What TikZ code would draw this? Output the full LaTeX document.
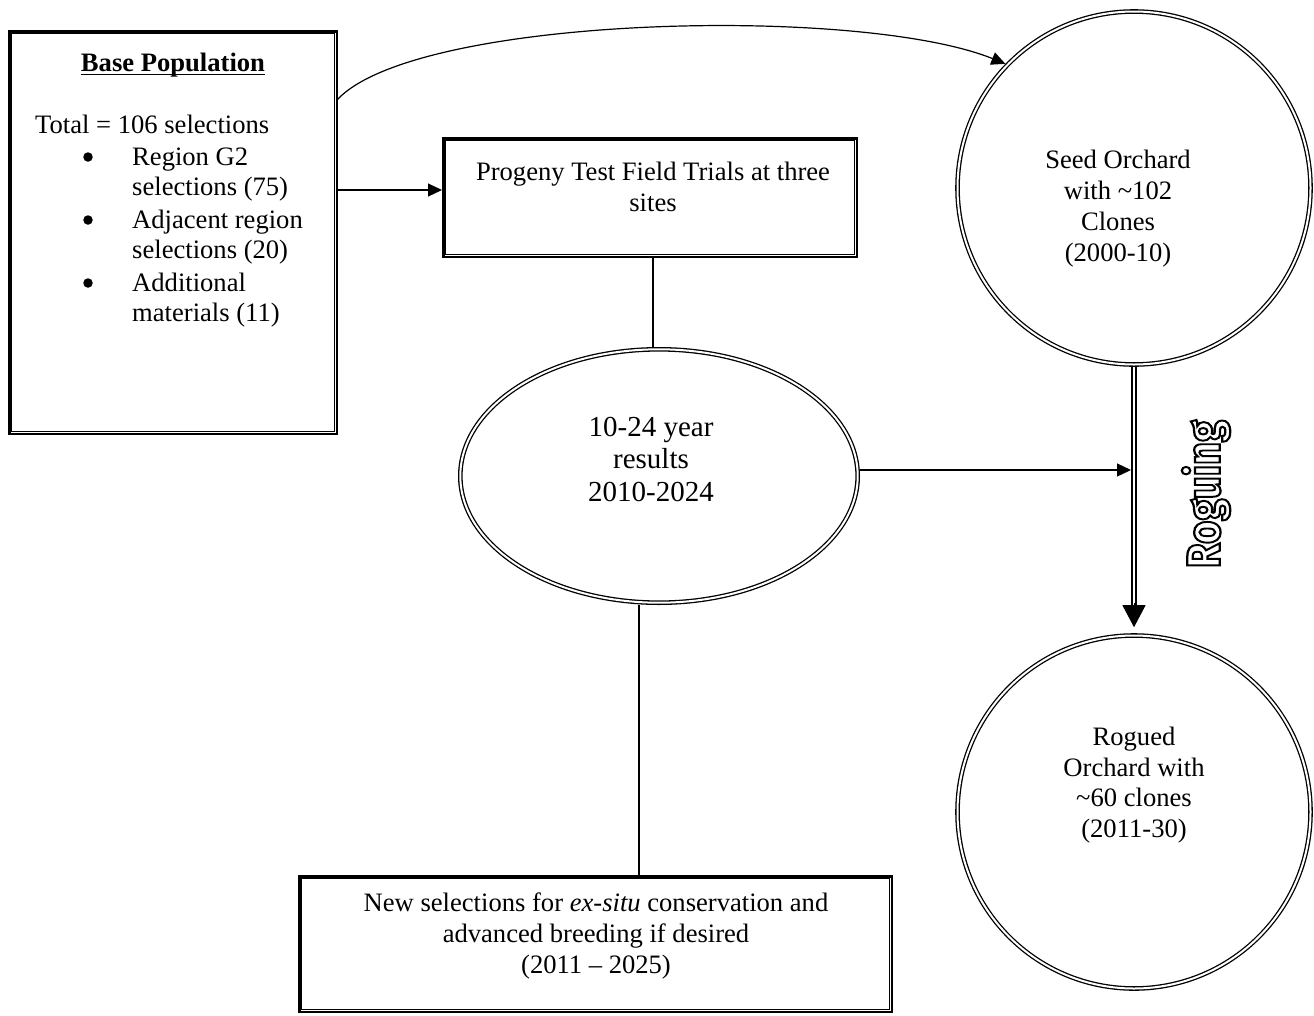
\documentclass[tikz,border=0pt]{standalone}
\usepackage{fontspec}
\setmainfont{Liberation Serif}
\newfontfamily\rogfont{Fira Sans}
\usetikzlibrary{arrows.meta,shapes.geometric,calc}
\newcommand{\fsz}{\fontsize{26.6}{30.6}\selectfont}
\newcommand{\fbig}{\fontsize{29}{32.5}\selectfont}
\begin{document}
\begin{tikzpicture}[x=1pt,y=-1pt,
  conn/.style={line width=1.2pt},
  arr/.style={conn,-{Triangle[length=14pt,width=13pt]}},
  boxo/.style={draw,rectangle,line width=2.5pt,inner sep=0pt},
  boxi/.style={line width=1pt},
  ring/.style={draw,double,line width=1.3pt,double distance=2pt,inner sep=0pt,outer sep=2.3pt},
  txt/.style={font=\fsz,inner sep=0pt,anchor=base},
  txtl/.style={font=\fsz,inner sep=0pt,anchor=base west},
  txtb/.style={font=\fbig,inner sep=0pt,anchor=base},
  bul/.style={circle,fill,minimum size=9.5pt,inner sep=0pt},
]
\fill[white] (0,0) rectangle (1314,1015);
\useasboundingbox (0,0) rectangle (1314,1015);

% shapes
\node[boxo,minimum width=327.5pt,minimum height=402.5pt] (bp) at (173,232.5) {};
\draw[boxi] ([shift={(3.75,3.75)}]bp.north west) rectangle ([shift={(-3.75,-3.75)}]bp.south east);
\node[boxo,minimum width=413.5pt,minimum height=118.5pt] (pt) at (650,197.5) {};
\draw[boxi] ([shift={(3.75,3.75)}]pt.north west) rectangle ([shift={(-3.75,-3.75)}]pt.south east);
\node[boxo,minimum width=592.5pt,minimum height=135.5pt] (nb) at (595.5,944) {};
\draw[boxi] ([shift={(3.75,3.75)}]nb.north west) rectangle ([shift={(-3.75,-3.75)}]nb.south east);
\node[ring,ellipse,minimum width=397.4pt,minimum height=253.4pt] (el) at (659,476) {};
\node[ring,circle,minimum size=353pt] (so) at (1134,188) {};
\node[ring,circle,minimum size=353pt] (ro) at (1134,812) {};

% base population text
\node[txt] (bpt) at (173,71) {\textbf{Base Population}};
\draw[line width=1.4pt] ([yshift=-3.5pt]bpt.base west) -- ([yshift=-3.5pt]bpt.base east);
\node[txtl] (tot) at (35,133) {Total = 106 selections};
\node[bul] (u1) at (88,157) {};
\node[bul] (u2) at (88,220) {};
\node[bul] (u3) at (88,283) {};
\node[txtl] (i1a) at (132,165) {Region G2};
\node[txtl] (i1b) at (132,195) {selections (75)};
\node[txtl] (i2a) at (132,228) {Adjacent region};
\node[txtl] (i2b) at (132,258) {selections (20)};
\node[txtl] (i3a) at (132,291) {Additional};
\node[txtl] (i3b) at (132,321) {materials (11)};

% progeny
\node[txt] (p1) at (653,180) {Progeny Test Field Trials at three};
\node[txt] (p2) at (653,211) {sites};

% seed orchard
\node[txt] (s1) at (1118,168) {Seed Orchard};
\node[txt] (s2) at (1118,199) {with \textasciitilde102};
\node[txt] (s3) at (1118,230) {Clones};
\node[txt] (s4) at (1118,261) {(2000-10)};

% ellipse
\node[txtb] (e1) at (651,436) {10-24 year};
\node[txtb] (e2) at (651,468) {results};
\node[txtb] (e3) at (651,501) {2010-2024};

% rogued
\node[txt] (r1) at (1134,745) {Rogued};
\node[txt] (r2) at (1134,776) {Orchard with};
\node[txt] (r3) at (1134,806) {\textasciitilde60 clones};
\node[txt] (r4) at (1134,837) {(2011-30)};

% bottom box
\node[txt] (n1) at (596,911) {New selections for \textit{ex-situ} conservation and};
\node[txt] (n2) at (596,942) {advanced breeding if desired};
\node[txt] (n3) at (596,973) {(2011 -- 2025)};

% roguing label
\node[rotate=90,inner sep=0pt] (rog) at (1206,494) {\resizebox{148pt}{38pt}{\rogfont\fontsize{50}{50}\selectfont\bfseries\special{pdf:literal direct 1 Tr 2.4 w}Roguing\special{pdf:literal direct 0 Tr}}};

% connectors
\draw[arr] ($(bp.north east)+(-1,70)$) .. controls (415,15) and (860,5) .. (so.136);
\draw[arr] ($(bp.east)+(0,-42.5)$) -- ($(pt.west)+(0,-7.5)$);
\draw[conn] ([xshift=3pt]pt.south) -- ([xshift=-6pt]el.north);
\draw[conn] ([xshift=-20pt]el.south) -- ([xshift=43.5pt]nb.north);
\coordinate (hit) at (1131,470);
\draw[arr] (el.east |- hit) -- (hit);
\draw[double,line width=1.8pt,double distance=2.8pt] (so.south) -- ($(ro.north)+(0,-27)$);
\draw[line width=1pt,-{Triangle[length=22pt,width=23pt]}] ($(ro.north)+(0,-30)$) -- ($(ro.north)+(0,-6)$);
\end{tikzpicture}
\end{document}
